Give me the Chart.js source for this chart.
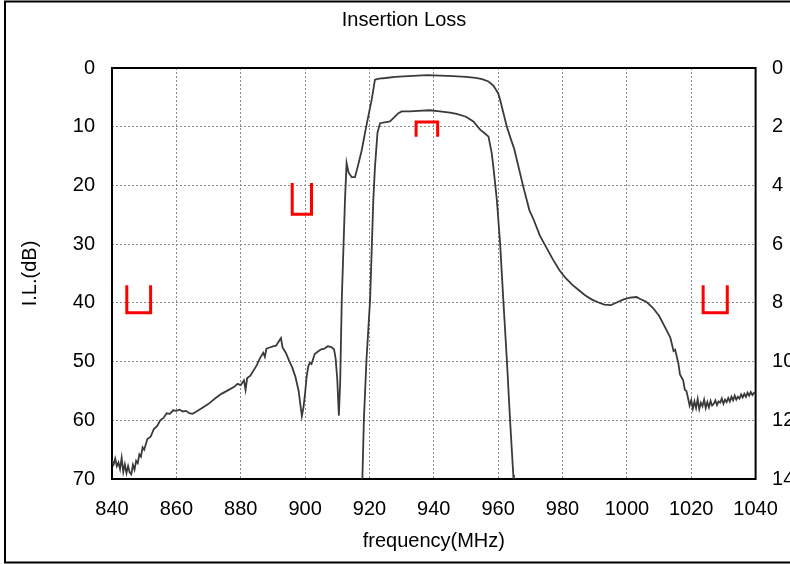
<!DOCTYPE html>
<html>
<head>
<meta charset="utf-8">
<script src="https://cdn.jsdelivr.net/npm/chart.js@4.4.1/dist/chart.umd.min.js"></script>
<style>
    html, body { margin: 0; padding: 0; background: #fff; overflow: hidden; }
    canvas { display: block; }
</style>
</head>
<body>
<canvas id="ilChart" width="790" height="564"></canvas>
<script>
// Wide-span response (left axis, dB)
const wideFreq = [
    840, 840.5, 841, 841.5, 842, 842.5, 843, 843.5, 844, 844.5, 845, 845.5, 846, 846.5, 847, 847.5, 848, 848.5, 849, 849.5,
    850, 851, 852, 853, 854, 855, 856, 857, 858, 859, 860, 861, 862, 863, 864, 865, 866, 868, 870, 872,
    874, 876, 878, 879, 880, 881, 881.5, 882, 883, 884, 885, 886, 887, 887.5, 888, 889, 890, 891, 892, 892.5,
    893, 894, 895, 896, 897, 898, 899, 899.5, 900, 900.5, 901, 901.5, 902, 903, 904, 905, 906, 907, 908, 909,
    909.5, 910, 910.5, 910.9, 911.4, 912.4, 912.9, 913.5, 914.5, 915.5, 916.5, 917.6, 919.1, 920.7, 921.7, 923, 925, 928, 932, 935,
    938, 942, 946, 950, 953, 955, 957, 958.5, 960, 960.6, 962.7, 964, 965, 967.8, 969.7, 971, 973, 975, 977, 979,
    981, 983, 985, 987, 989, 991, 993, 995, 997, 999, 1001, 1003, 1004, 1006, 1008, 1010, 1012, 1013.5, 1014.5, 1015,
    1016, 1016.5, 1017.5, 1018, 1018.5, 1019, 1019.5, 1020, 1020.5, 1021, 1021.5, 1022, 1022.5, 1023, 1023.5, 1024, 1024.5, 1025, 1025.5, 1026,
    1026.5, 1027, 1027.5, 1028, 1028.5, 1029, 1029.5, 1030, 1030.5, 1031, 1031.5, 1032, 1032.5, 1033, 1033.5, 1034, 1034.5, 1035, 1035.5, 1036,
    1036.5, 1037, 1037.5, 1038, 1038.5, 1039, 1039.5, 1040
];
const wideLoss = [
    66.8, 67.5, 66.5, 67.8, 67.2, 68.3, 66.4, 68.8, 67.5, 69.0, 67.8, 68.9, 69.2, 67.6, 68.4, 66.9, 67.3, 65.8, 66.2, 64.6,
    65.0, 63.2, 62.8, 61.5, 61.0, 60.0, 59.6, 58.8, 58.9, 58.3, 58.4, 58.2, 58.5, 58.4, 58.8, 58.9, 58.6, 57.9, 57.2, 56.3,
    55.5, 54.9, 54.3, 53.8, 54.0, 53.2, 54.8, 52.8, 52.4, 51.5, 50.6, 49.4, 48.5, 49.2, 47.8, 47.6, 47.4, 47.3, 46.4, 46.0,
    47.6, 48.5, 49.8, 51.0, 52.6, 55.0, 59.3, 57.8, 55.4, 52.5, 50.8, 50.2, 50.4, 48.7, 48.3, 47.9, 47.8, 47.4, 47.5, 47.9,
    49.5, 53.0, 59.2, 53.7, 39.5, 22.5, 16.2, 17.8, 18.6, 18.6, 16.5, 14.0, 9.7, 5.4, 2.0, 1.8, 1.7, 1.5, 1.4, 1.3,
    1.2, 1.3, 1.4, 1.5, 1.7, 1.9, 2.3, 3.0, 4.3, 5.4, 10.0, 12.2, 13.8, 20.2, 24.2, 25.8, 28.6, 30.6, 32.6, 34.4,
    35.8, 36.9, 37.8, 38.7, 39.4, 39.9, 40.3, 40.4, 39.9, 39.4, 39.1, 39.0, 39.3, 39.8, 40.8, 42.2, 44.3, 45.9, 48.2, 48.0,
    50.3, 52.2, 53.2, 54.8, 55.0, 56.2, 57.5, 56.6, 58.0, 56.8, 57.9, 56.4, 58.1, 57.0, 57.6, 56.5, 57.9, 56.9, 57.8, 56.7,
    57.5, 57.2, 56.6, 57.4, 56.8, 57.0, 56.3, 57.2, 56.5, 56.9, 56.2, 56.8, 56.0, 56.6, 55.8, 56.5, 56.0, 56.3, 55.6, 56.1,
    55.5, 56.0, 55.3, 55.8, 55.2, 55.7, 55.3, 55.5
];

// Passband zoom (right axis, dB)
const passFreq = [
    917.6, 917.8, 918.3, 919.1, 920.2, 921.2, 921.7, 922.5, 923.3, 926.4, 929, 930, 932.6, 935, 938.8, 941.9, 945, 947.1, 950, 952.3,
    954.4, 956, 957, 958, 958.5, 959.6, 960.6, 961.6, 962.7, 963.7, 964.7, 964.9
];
const passLoss = [
    14.3, 14.0, 11.9, 9.9, 7.9, 4.5, 3.4, 2.2, 1.88, 1.82, 1.54, 1.48, 1.48, 1.46, 1.44, 1.48, 1.52, 1.56, 1.66, 1.82,
    2.1, 2.24, 2.34, 2.9, 3.36, 4.5, 5.98, 7.9, 9.94, 12.0, 13.86, 14.3
];

// Spec masks (red)
const rejMaskLow = { freq: [844.6, 844.6, 852, 852], level: [37, 41.7, 41.7, 37] };
const rejMaskMid = { freq: [896, 896, 902, 902], level: [19.6, 24.9, 24.9, 19.6] };
const rejMaskHigh = { freq: [1023.7, 1023.7, 1031.2, 1031.2], level: [37, 41.7, 41.7, 37] };
const passMask = { freq: [934.5, 934.5, 941.2, 941.2], level: [2.34, 1.84, 1.84, 2.34] };

const freqTicks = { min: 840, max: 1040, step: 20 };
const leftTicks = { min: 0, max: 70, step: 10 };
const rightTicks = { min: 0, max: 14, step: 2 };

const FONT = { family: "'Liberation Sans', Arial, sans-serif", size: 20 };
const toPoints = (xs, ys) => xs.map((x, i) => ({ x: x, y: ys[i] }));
const plainNum = (v) => String(v);

function traceSet(xs, ys, axis) {
    return {
        data: toPoints(xs, ys),
        yAxisID: axis,
        borderColor: '#3a3a3a',
        borderWidth: 1.8,
        pointRadius: 0,
        tension: 0
    };
}

function maskSet(m, axis) {
    return {
        data: toPoints(m.freq, m.level),
        yAxisID: axis,
        borderColor: '#ff0000',
        borderWidth: 3,
        pointRadius: 0,
        tension: 0
    };
}

// frame around the picture and around the plot area
const framePlugin = {
    id: 'frames',
    beforeDraw(chart) {
        const ctx = chart.ctx;
        ctx.save();
        ctx.strokeStyle = '#000';
        ctx.lineWidth = 2;
        ctx.strokeRect(5, 1.5, 900, 561);
        ctx.restore();
    },
    beforeDatasetsDraw(chart) {
        const { ctx, chartArea } = chart;
        ctx.save();
        ctx.strokeStyle = '#000';
        ctx.lineWidth = 2;
        ctx.strokeRect(chartArea.left, chartArea.top, chartArea.right - chartArea.left, chartArea.bottom - chartArea.top);
        ctx.restore();
    }
};

const gridOpts = { color: '#8a8a8a', lineWidth: 1, drawTicks: false };
const borderOpts = { display: false, dash: [2, 2] };

new Chart(document.getElementById('ilChart'), {
    type: 'line',
    data: {
        datasets: [
            traceSet(wideFreq, wideLoss, 'y'),
            traceSet(passFreq, passLoss, 'y2'),
            maskSet(rejMaskLow, 'y'),
            maskSet(rejMaskMid, 'y'),
            maskSet(rejMaskHigh, 'y'),
            maskSet(passMask, 'y2')
        ]
    },
    options: {
        responsive: false,
        animation: false,
        layout: { padding: { left: 18, right: 0, top: 0, bottom: 0 } },
        plugins: {
            legend: { display: false },
            tooltip: { enabled: false },
            title: {
                display: true,
                text: 'Insertion Loss',
                color: '#000',
                font: { ...FONT, weight: 'normal' },
                padding: { top: 8, bottom: 36 }
            }
        },
        scales: {
            x: {
                type: 'linear',
                min: freqTicks.min,
                max: freqTicks.max,
                grid: gridOpts,
                border: borderOpts,
                ticks: { stepSize: freqTicks.step, color: '#000', font: FONT, padding: 18, maxRotation: 0, callback: plainNum },
                title: { display: true, text: 'frequency(MHz)', color: '#000', font: FONT, padding: { top: 0, bottom: 11 } },
                afterFit(scale) {
                    scale.height = 85;
                    scale.paddingLeft = 0;
                    scale.paddingRight = 0;
                }
            },
            y: {
                position: 'left',
                reverse: true,
                min: leftTicks.min,
                max: leftTicks.max,
                grid: gridOpts,
                border: borderOpts,
                ticks: { stepSize: leftTicks.step, color: '#000', font: FONT, padding: 17, callback: plainNum },
                title: { display: true, text: 'I.L.(dB)', color: '#000', font: FONT, padding: { top: 0, bottom: 0 } },
                afterFit(scale) { scale.width = 94; }
            },
            y2: {
                position: 'right',
                reverse: true,
                min: rightTicks.min,
                max: rightTicks.max,
                grid: { display: false, drawTicks: false },
                border: { display: false },
                ticks: { stepSize: rightTicks.step, color: '#000', font: FONT, padding: 16.5, callback: plainNum },
                afterFit(scale) { scale.width = 34.4; }
            }
        }
    },
    plugins: [framePlugin]
});
</script>
</body>
</html>
